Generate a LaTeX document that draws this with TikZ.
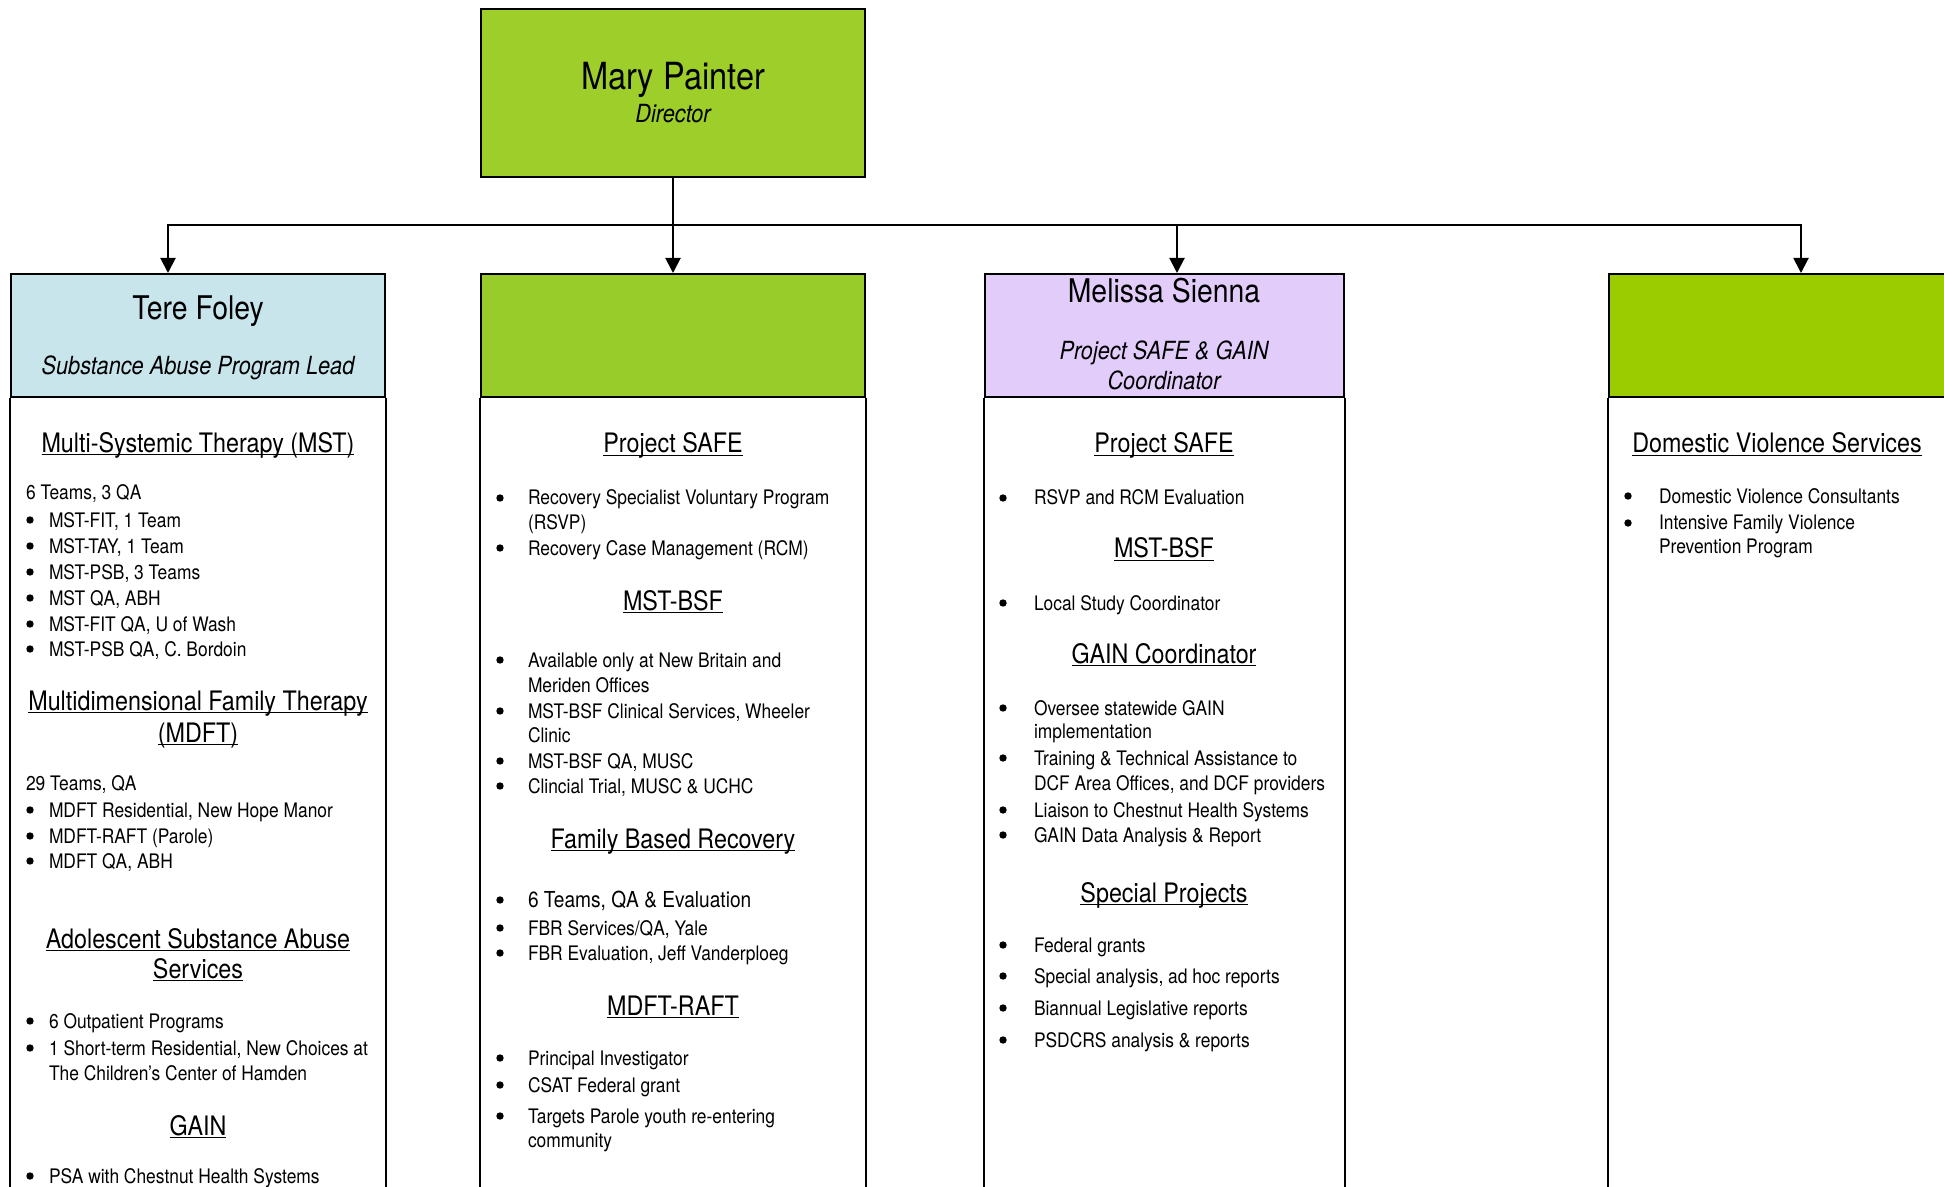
\documentclass[tikz,border=0pt]{standalone}
\usepackage{fontspec}
\setmainfont{TeX Gyre Heros}[FakeStretch=0.87]
\usetikzlibrary{arrows.meta}

\definecolor{dirgreen}{RGB}{158,206,42}
\definecolor{safegreen}{RGB}{152,204,42}
\definecolor{dvgreen}{RGB}{155,204,0}
\definecolor{leadblue}{RGB}{200,229,236}
\definecolor{coordlilac}{RGB}{226,205,250}

% word-style underline, drawn through the descenders
\newcommand{\undl}[1]{\setbox0\hbox{#1}\rlap{\rule[-1.7pt]{\wd0}{0.6pt}}\box0}

\tikzset{
  box/.style={draw, line width=1pt, inner sep=0},
  who/.style={anchor=base, inner sep=0, font=\fontsize{16.3}{18}\selectfont},
  role/.style={anchor=base, inner sep=0, font=\fontsize{12.5}{14}\selectfont\itshape},
  head/.style={anchor=base, inner sep=0, font=\fontsize{13.4}{15}\selectfont},
  txt/.style={anchor=base west, inner sep=0, font=\fontsize{10}{12}\selectfont},
}

\begin{document}
\begin{tikzpicture}[x=0.5pt, y=-0.5pt, line width=1pt, >={Triangle[length=7.5pt,width=7.5pt]}]
	\useasboundingbox (0,0) rectangle (1944,1187);
	\clip (0,0) rectangle (1944,1187);

	% director
	\node[box, fill=dirgreen, minimum width=192pt, minimum height=84pt] (dir) at (673,93) {};
	\node[anchor=base, inner sep=0, font=\fontsize{18.7}{20}\selectfont] (dirname) at (673,90) {Mary Painter};
	\node[role] (dirrole) at (673,123) {Director};

	% column heads
	\node[box, fill=leadblue, minimum width=187pt, minimum height=61.5pt] (lead) at (198,335.5) {};
	\node[box, fill=safegreen, minimum width=192pt, minimum height=61.5pt] (safe) at (673,335.5) {};
	\node[box, fill=coordlilac, minimum width=179.5pt, minimum height=61.5pt] (coord) at (1164.5,335.5) {};
	\node[box, fill=dvgreen, minimum width=200pt, minimum height=61.5pt] (dv) at (1809,335.5) {};
	\foreach \n in {lead,safe,coord,dv}
		\draw (\n.south west) -- ++(0,900) (\n.south east) -- ++(0,900);

	% connectors
	\coordinate (bus) at (673,225);
	\coordinate (t1) at ([xshift=-15pt]lead.north);
	\coordinate (t3) at ([xshift=6.25pt]coord.north);
	\coordinate (t4) at ([xshift=-4pt]dv.north);
	\draw (dir.south) -- (bus);
	\draw [->] (bus) -| (t1);
	\draw [->] (bus) -- (safe.north);
	\draw [->] (bus) -| (t3);
	\draw [->] (bus) -| (t4);

	% names and roles
	\node[who] (leadname) at (198,320) {Tere Foley};
	\node[role] (leadrole) at (198,375) {Substance Abuse Program Lead};
	\node[who] (coordname) at (1164,303) {Melissa Sienna};
	\node[role] (coordrole) at (1164,360) {Project SAFE \& GAIN};
	\node[role] (coordrole2) at (1164,390) {Coordinator};

	% program headings
	\foreach \x/\y/\t [count=\i] in {198/452/{Multi-Systemic Therapy (MST)}, 198/710/{Multidimensional Family Therapy},
		198/742/{(MDFT)}, 198/948/{Adolescent Substance Abuse}, 198/978/{Services}, 198/1135/{GAIN},
		673/453/{Project SAFE}, 673/610/{MST-BSF}, 673/848/{Family Based Recovery}, 673/1015/{MDFT-RAFT},
		1164/453/{Project SAFE}, 1164/558/{MST-BSF}, 1164/663/{GAIN Coordinator}, 1164/902/{Special Projects},
		1777/453/{Domestic Violence Services}}
		\node[head] (head\i) at (\x,\y) {\undl{\t}};

	% column 1
	\node[txt] (leadteams) at (25,500) {6 Teams, 3 QA};
	\node[txt] (leadteams2) at (25,790) {29 Teams, QA};
	\foreach \y/\t [count=\i] in {527/{MST-FIT, 1 Team}, 553/{MST-TAY, 1 Team}, 579/{MST-PSB, 3 Teams},
		605/{MST QA, ABH}, 631/{MST-FIT QA, U of Wash}, 656/{MST-PSB QA, C. Bordoin},
		817/{MDFT Residential, New Hope Manor}, 843/{MDFT-RAFT (Parole)}, 868/{MDFT QA, ABH},
		1028/{6 Outpatient Programs}, 1055/{1 Short-term Residential, New Choices at},
		1183/{PSA with Chestnut Health Systems}}{
		\fill (30,\y-7) circle (3.7);
		\node[txt] (lead\i) at (48,\y) {\t};
	}
	\node[txt] (leadmore) at (48,1080) {The Children's Center of Hamden};

	% column 2
	\foreach \y/\t [count=\i] in {505/{Recovery Specialist Voluntary Program}, 555/{Recovery Case Management (RCM)},
		667/{Available only at New Britain and}, 718/{MST-BSF Clinical Services, Wheeler},
		768/{MST-BSF QA, MUSC}, 793/{Clincial Trial, MUSC \& UCHC},
		907/{\fontsize{11}{13}\selectfont 6 Teams, QA \& Evaluation}, 935/{FBR Services/QA, Yale},
		960/{FBR Evaluation, Jeff Vanderploeg}, 1065/{Principal Investigator}, 1092/{CSAT Federal grant},
		1123/{Targets Parole youth re-entering}}{
		\fill (500,\y-7) circle (3.7);
		\node[txt] (safe\i) at (527,\y) {\t};
	}
	\foreach \y/\t [count=\i] in {530/{(RSVP)}, 692/{Meriden Offices}, 742/{Clinic}, 1147/{community}}
		\node[txt] (safemore\i) at (527,\y) {\t};

	% column 3
	\foreach \y/\t [count=\i] in {505/{RSVP and RCM Evaluation}, 610/{Local Study Coordinator},
		715/{Oversee statewide GAIN}, 765/{Training \& Technical Assistance to},
		817/{Liaison to Chestnut Health Systems}, 842/{GAIN Data Analysis \& Report},
		952/{Federal grants}, 983/{Special analysis, ad hoc reports}, 1015/{Biannual Legislative reports},
		1047/{PSDCRS analysis \& reports}}{
		\fill (1003,\y-7) circle (3.7);
		\node[txt] (coord\i) at (1033,\y) {\t};
	}
	\foreach \y/\t [count=\i] in {738/{implementation}, 790/{DCF Area Offices, and DCF providers}}
		\node[txt] (coordmore\i) at (1033,\y) {\t};

	% column 4
	\foreach \y/\t [count=\i] in {503/{Domestic Violence Consultants}, 530/{Intensive Family Violence}}{
		\fill (1628,\y-7) circle (3.7);
		\node[txt] (dv\i) at (1658,\y) {\t};
	}
	\node[txt] (dvmore) at (1658,553) {Prevention Program};
\end{tikzpicture}
\end{document}
